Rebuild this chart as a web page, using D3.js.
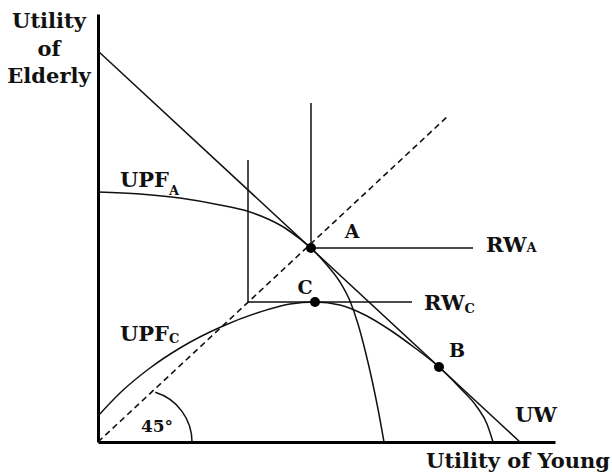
<!DOCTYPE html>
<html>
<head>
<meta charset="utf-8">
<script src="https://cdn.jsdelivr.net/npm/d3@7"></script>
<style>
  body { margin: 0; background: #fff; }
  text { font-family: "DejaVu Serif", serif; font-weight: bold; fill: #111; }
</style>
</head>
<body>
<div id="chart"></div>
<script>
// Chart units: origin at the axis corner, 1 unit ~ 10 px on both axes
const uwLine = [[0, 39.1], [42.2, 0]];
const diagonal = [[0, 0], [35.0, 32.6]];

const upfA = [
    [0, 25.0], [4.2, 24.8], [8.2, 24.4], [12.2, 23.7], [15.2, 23.0],
    [17.0, 22.3], [18.7, 21.4], [20.2, 20.3], [21.3, 19.4], [22.8, 17.8],
    [24.2, 16.0], [25.2, 14.1], [26.0, 11.8], [26.7, 9.2], [27.4, 6.2],
    [28.0, 3.3], [28.6, 0]
];

const upfC = [
    [0, 2.6], [2.2, 4.9], [5.2, 7.4], [8.2, 9.4], [12.5, 11.6],
    [16.2, 13.0], [19.2, 13.8], [21.7, 14.0], [24.2, 13.7], [26.7, 12.7],
    [29.2, 11.2], [31.7, 9.4], [34.1, 7.5], [36.2, 5.4], [37.9, 3.5],
    [38.9, 1.8], [39.5, 0]
];

const dots = [
    { name: "A", x: 21.3, y: 19.4 },
    { name: "B", x: 34.1, y: 7.5 },
    { name: "C", x: 21.7, y: 14.0 }
];

// Rawlsian welfare contours: corner, top of vertical arm, end of horizontal arm
const rwA = { x: 21.3, y: 19.4, top: 33.9, right: 37.5 };
const rwC = { x: 15.0, y: 14.0, top: 28.2, right: 31.4 };

// 45 degree marker arc
const angleArc = { cx: 4.2, r: 5.2, startX: 5.7, startY: 4.9 };

const width = 612, height = 475;

const svg = d3.select("#chart")
    .append("svg")
    .attr("width", width)
    .attr("height", height);

const x = d3.scaleLinear().domain([0, 45.7]).range([98, 555]);
const y = d3.scaleLinear().domain([0, 42.8]).range([442, 14]);

// Axes without ticks
svg.append("g")
    .attr("transform", `translate(0,${y(0)})`)
    .call(d3.axisBottom(x).tickValues([]).tickSizeOuter(0))
    .select(".domain")
    .attr("stroke", "#000")
    .attr("stroke-width", 3);

svg.append("g")
    .attr("transform", `translate(${x(0)},0)`)
    .call(d3.axisLeft(y).tickValues([]).tickSizeOuter(0))
    .select(".domain")
    .attr("stroke", "#000")
    .attr("stroke-width", 3);

const line = d3.line().x(d => x(d[0])).y(d => y(d[1]));
const smooth = d3.line().x(d => x(d[0])).y(d => y(d[1])).curve(d3.curveMonotoneX);

// 45 degree line
svg.append("path")
    .attr("d", line(diagonal))
    .attr("fill", "none")
    .attr("stroke", "#111")
    .attr("stroke-width", 1.6)
    .attr("stroke-dasharray", "6,4");

// Utilitarian welfare line
svg.append("path")
    .attr("d", line(uwLine))
    .attr("fill", "none")
    .attr("stroke", "#111")
    .attr("stroke-width", 1.5);

// Frontiers
[upfA, upfC].forEach(curve => {
    svg.append("path")
        .attr("d", smooth(curve))
        .attr("fill", "none")
        .attr("stroke", "#111")
        .attr("stroke-width", 1.5);
});

// RW contours (L-shaped)
[rwA, rwC].forEach(rw => {
    svg.append("path")
        .attr("d", line([[rw.x, rw.top], [rw.x, rw.y], [rw.right, rw.y]]))
        .attr("fill", "none")
        .attr("stroke", "#111")
        .attr("stroke-width", 1.5);
});

// 45 degree arc
const arcPath = d3.path();
const cxp = x(angleArc.cx), cyp = y(0), rp = x(angleArc.r) - x(0);
const a0 = Math.atan2(y(angleArc.startY) - cyp, x(angleArc.startX) - cxp);
arcPath.arc(cxp, cyp, rp, a0, 0);
svg.append("path")
    .attr("d", arcPath.toString())
    .attr("fill", "none")
    .attr("stroke", "#111")
    .attr("stroke-width", 1.5);

// Dots
svg.selectAll(".dot")
    .data(dots)
    .join("circle")
    .attr("class", "dot")
    .attr("cx", d => x(d.x))
    .attr("cy", d => y(d.y))
    .attr("r", 5)
    .attr("fill", "#000");

// Point labels
const pointLabels = [
    { t: "A", px: 352, py: 238 },
    { t: "B", px: 457, py: 357 },
    { t: "C", px: 305, py: 294 }
];
svg.selectAll(".plabel")
    .data(pointLabels)
    .join("text")
    .attr("class", "plabel")
    .attr("x", d => d.px)
    .attr("y", d => d.py)
    .attr("text-anchor", "middle")
    .style("font-size", "19px")
    .text(d => d.t);

// Axis titles
const yTitle = svg.append("text")
    .attr("text-anchor", "middle")
    .style("font-size", "21px");
[["Utility", 28], ["of", 56], ["Elderly", 83]].forEach(([t, by]) => {
    yTitle.append("tspan").attr("x", 49).attr("y", by).text(t);
});

svg.append("text")
    .attr("x", 610)
    .attr("y", 468)
    .attr("text-anchor", "end")
    .style("font-size", "21px")
    .text("Utility of Young");

// Curve labels with subscripts
function subLabel(px, py, main, sub, shift) {
    const t = svg.append("text")
        .attr("x", px)
        .attr("y", py)
        .style("font-size", "21px");
    t.append("tspan").text(main);
    t.append("tspan")
        .attr("dy", shift)
        .style("font-size", "13px")
        .text(sub);
}
subLabel(120, 187, "UPF", "A", 8);
subLabel(120, 341, "UPF", "C", 2);
subLabel(486, 252, "RW", "A", 0);
subLabel(424, 310, "RW", "C", 3);

svg.append("text")
    .attr("x", 515)
    .attr("y", 422)
    .style("font-size", "21px")
    .text("UW");

svg.append("text")
    .attr("x", 157)
    .attr("y", 432)
    .attr("text-anchor", "middle")
    .style("font-size", "17px")
    .text("45°");
</script>
</body>
</html>
